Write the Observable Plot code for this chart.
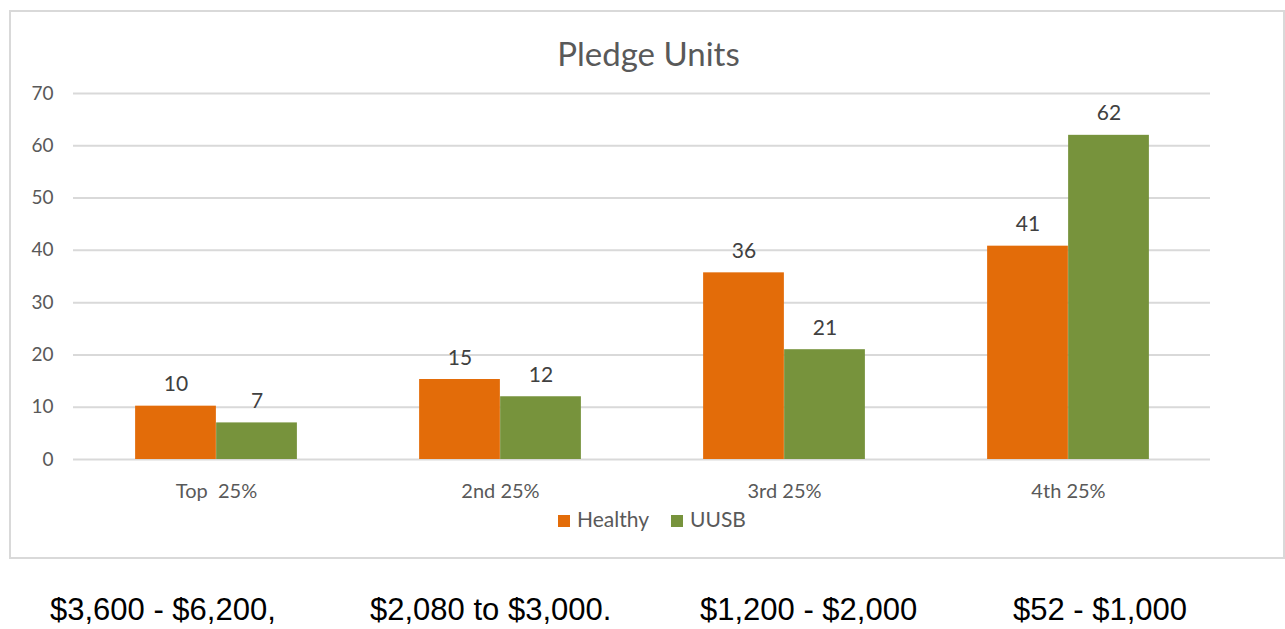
<!DOCTYPE html>
<html>
<head>
<meta charset="utf-8">
<script src="https://cdn.jsdelivr.net/npm/d3@7"></script>
<script src="https://cdn.jsdelivr.net/npm/@observablehq/plot@0.6"></script>
<style>
  html, body { margin: 0; padding: 0; background: #fff; width: 1285px; height: 629px; overflow: hidden; }
  #frame { position: absolute; left: 9px; top: 10px; width: 1272px; height: 545px; border: 2px solid #d9d9d9; }
  #chart { position: absolute; left: 0; top: 0; }
  #title { position: absolute; left: 0; width: 1297px; top: 33px; text-align: center; font-family: Lato, "Open Sans", sans-serif; font-size: 33px; color: #595959; }
  #legend { position: absolute; left: 0; width: 1304px; top: 506px; text-align: center; font-family: Lato, "Open Sans", sans-serif; font-size: 21px; color: #595959; }
  #legend span.sw { display: inline-block; width: 12px; height: 12px; margin-right: 7px; vertical-align: 0px; }
  #legend span.item { margin: 0 11px; }
  #ranges { position: absolute; left: 0; top: 592px; width: 1285px; font-family: "Liberation Sans", Arial, sans-serif; font-size: 31px; color: #000; }
  #ranges div { position: absolute; white-space: nowrap; }
</style>
</head>
<body>
<div id="frame"></div>
<div id="chart"></div>
<div id="title">Pledge Units</div>
<div id="legend"></div>
<div id="ranges"></div>
<script>
const categories = ["Top  25%", "2nd 25%", "3rd 25%", "4th 25%"];
const seriesNames = ["Healthy", "UUSB"];
const healthy = [10.2, 15.3, 35.7, 40.8];
const uusb = [7, 12, 21, 62];
const yTicks = [0, 10, 20, 30, 40, 50, 60, 70];
const colors = ["#E36C09", "#77933C"];
const ranges = ["$3,600 - $6,200,", "$2,080 to $3,000.", "$1,200 - $2,000", "$52 - $1,000"];

const rows = [];
categories.forEach((c, i) => {
  rows.push({category: c, series: seriesNames[0], value: healthy[i]});
  rows.push({category: c, series: seriesNames[1], value: uusb[i]});
});
const hRows = rows.filter(d => d.series === seriesNames[0]);
const uRows = rows.filter(d => d.series === seriesNames[1]);

const W = 1285, H = 540;
const mL = 73, mR = 75, mT = 93, mB = 81;
const step = (W - mL - mR) / categories.length;
const barW = step * 0.285;
const outer = (step - 2 * barW) / 2;
const font = "Lato, 'Open Sans', sans-serif";

const plot = Plot.plot({
  width: W, height: H,
  marginLeft: mL, marginRight: mR, marginTop: mT, marginBottom: mB,
  style: {fontFamily: font, fontSize: "18px", color: "#595959", background: "transparent"},
  x: {domain: categories, padding: 0, label: null},
  y: {domain: [0, 70], label: null},
  color: {domain: seriesNames, range: colors},
  marks: [
    Plot.ruleY(yTicks, {stroke: "#d9d9d9", strokeWidth: 2}),
    Plot.barY(hRows, {x: "category", y: "value", fill: "series", insetLeft: outer, insetRight: outer + barW}),
    Plot.barY(uRows, {x: "category", y: "value", fill: "series", insetLeft: outer + barW, insetRight: outer}),
    Plot.text(hRows, {x: "category", y: "value", text: d => String(Math.round(d.value)), dx: -barW / 2, dy: -15, lineAnchor: "bottom", fill: "#404040", fontSize: 21}),
    Plot.text(uRows, {x: "category", y: "value", text: d => String(Math.round(d.value)), dx: barW / 2, dy: -15, lineAnchor: "bottom", fill: "#404040", fontSize: 21}),
    Plot.axisY({ticks: yTicks, tickSize: 0, tickPadding: 20, label: null, fontSize: 19}),
    Plot.axisX({tickSize: 0, tickPadding: 24, label: null, fontSize: 20})
  ]
});
document.getElementById("chart").appendChild(plot);

const legend = document.getElementById("legend");
seriesNames.forEach((s, i) => {
  const item = document.createElement("span");
  item.className = "item";
  const sw = document.createElement("span");
  sw.className = "sw";
  sw.style.background = colors[i];
  item.appendChild(sw);
  item.appendChild(document.createTextNode(s));
  legend.appendChild(item);
});

const rangeLefts = [50, 370, 700, 1013];
const rangeBox = document.getElementById("ranges");
ranges.forEach((r, i) => {
  const d = document.createElement("div");
  d.textContent = r;
  d.style.left = rangeLefts[i] + "px";
  rangeBox.appendChild(d);
});
</script>
</body>
</html>
